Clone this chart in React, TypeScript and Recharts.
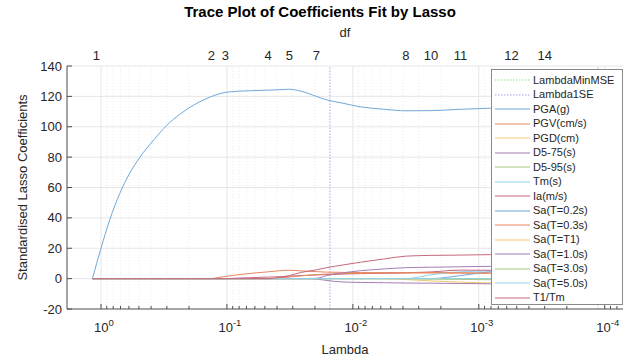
import React from "react";
import { LineChart, Line, XAxis, YAxis, ReferenceLine, Legend } from "recharts";

// lambda path (largest to smallest) and the coefficient traces along it
const lambdas = [
  1.17, 1.0, 0.85, 0.71, 0.6, 0.49, 0.38, 0.3, 0.234, 0.182, 0.148, 0.133, 0.12, 0.103, 0.085, 0.066,
  0.047, 0.038, 0.032, 0.026, 0.0195, 0.0162, 0.012, 0.0087, 0.0056, 0.0038, 0.0024, 0.0014, 0.00081, 0.00055, 0.0003, 0.000117,
];

const pga = [0, 20, 39, 56, 68.5, 80, 91.5, 101, 108.5, 114.5, 118.3, 119.9, 121.2, 122.6, 123.3, 123.7, 124.1, 124.4, 124.7, 123.5, 120, 117.7, 115.5, 113.1, 111.5, 110.5, 110.6, 111.5, 112.2, 112.5, 112.7, 112.9];
const pgv = [0, 0, 0, 0, 0, 0, 0, 0, 0, 0, 0, 0, 0.6, 1.4, 2.4, 3.4, 4.5, 5.2, 5.5, 5.1, 4.6, 4.3, 4.1, 4.0, 3.9, 3.8, 3.7, 3.6, 3.5, 3.5, 3.4, 3.4];
const pgd = [0, 0, 0, 0, 0, 0, 0, 0, 0, 0, 0, 0, 0, 0, 0, 0, 0, 0, 0, 0, 0, 0, 0, 0, 0, -0.6, -1.5, -2.3, -2.9, -3.1, -3.2, -3.3];
const d575 = [0, 0, 0, 0, 0, 0, 0, 0, 0, 0, 0, 0, 0, 0, 0, 0, 0, 0, 0, 0, -0.3, -1.2, -2.2, -2.5, -2.7, -2.9, -3.0, -3.2, -3.4, -3.5, -3.6, -3.7];
const d595 = [0, 0, 0, 0, 0, 0, 0, 0, 0, 0, 0, 0, 0, 0, 0, 0, 0, 0, 0, 0, 0, 0, 0, 0, 0, 0, -0.3, -0.5, -0.7, -0.8, -0.9, -1.0];
const tm = [0, 0, 0, 0, 0, 0, 0, 0, 0, 0, 0, 0, 0, 0, 0, 0, 0, 0, 0, 0, 0, 0, 0, 0, 0, 0, 2.5, 4.5, 5.0, 5.3, 5.5, 5.8];
const ia = [0, 0, 0, 0, 0, 0, 0, 0, 0, 0, 0, 0, 0, 0, 0.3, 0.6, 1.0, 1.3, 1.6, 2.0, 2.4, 2.7, 3.0, 3.3, 3.5, 3.8, 4.4, 5.6, 5.5, 5.4, 5.3, 5.2];
const sa02 = [0, 0, 0, 0, 0, 0, 0, 0, 0, 0, 0, 0, 0, 0, 0, 0, 0, 0, 0, 0, 0, 0, 0, 0, 0, 0, 0, 2.0, 4.5, 5.5, 6.2, 6.6];
const sa03 = [0, 0, 0, 0, 0, 0, 0, 0, 0, 0, 0, 0, 0, 0, 0, 0, 0, 0.5, 1.0, 1.8, 2.6, 3.0, 3.3, 3.5, 3.7, 3.9, 4.0, 3.9, 3.7, 3.6, 3.5, 3.5];
const saT1 = [0, 0, 0, 0, 0, 0, 0, 0, 0, 0, 0, 0, 0, 0, 0, 0, 0, 0, 0, 0, 0, 0, 0, 0, 0, 0, 0, 0, 0, -0.5, -1.2, -1.6];
const sa10 = [0, 0, 0, 0, 0, 0, 0, 0, 0, 0, 0, 0, 0, 0, 0, 0, 0, 0, 0, 0, 0.2, 2.0, 3.8, 5.2, 6.4, 7.2, 7.5, 7.8, 8.1, 8.3, 8.4, 8.5];
const sa30 = [0, 0, 0, 0, 0, 0, 0, 0, 0, 0, 0, 0, 0, 0, 0, 0, 0, 0, 0, 0, 0, 0, 0, 0, 0, 0, 0, 0, 0, 0, -0.4, -0.8];
const sa50 = [0, 0, 0, 0, 0, 0, 0, 0, 0, 0, 0, 0, 0, 0, 0, 0, 0, 0, 0, 0, 0, 0, 0, 0, 0, 0, 0, 0, 0, 0, 0.8, 1.6];
const t1tm = [0, 0, 0, 0, 0, 0, 0, 0, 0, 0, 0, 0, 0, 0, 0, 0, 0, 0.8, 2.0, 4.0, 5.8, 7.2, 9.0, 10.8, 13.0, 14.8, 15.3, 15.5, 15.8, 15.9, 16.0, 16.1];

const seriesNames = [
  "PGA(g)", "PGV(cm/s)", "PGD(cm)", "D5-75(s)", "D5-95(s)", "Tm(s)", "Ia(m/s)",
  "Sa(T=0.2s)", "Sa(T=0.3s)", "Sa(T=T1)", "Sa(T=1.0s)", "Sa(T=3.0s)", "Sa(T=5.0s)", "T1/Tm",
];
const seriesValues = [pga, pgv, pgd, d575, d595, tm, ia, sa02, sa03, saT1, sa10, sa30, sa50, t1tm];

// matlab default line order, a bit washed out
const palette = ["#6fa8da", "#e8875f", "#f1c96a", "#a67cb4", "#a4c97c", "#8dd3f1", "#c9677b"];

const yTicks = [-20, 0, 20, 40, 60, 80, 100, 120, 140];
const decadeTicks = [1, 0.1, 0.01, 0.001, 0.0001];
const minorTicks = [
  0.9, 0.8, 0.7, 0.6, 0.5, 0.4, 0.3, 0.2,
  0.09, 0.08, 0.07, 0.06, 0.05, 0.04, 0.03, 0.02,
  0.009, 0.008, 0.007, 0.006, 0.005, 0.004, 0.003, 0.002,
  0.0009, 0.0008, 0.0007, 0.0006, 0.0005, 0.0004, 0.0003, 0.0002,
  0.00009, 0.00008,
];
const dfLambdas = [1.09, 0.133, 0.103, 0.047, 0.032, 0.0195, 0.0038, 0.0024, 0.0014, 0.00055, 0.0003];
const dfLabels = ["1", "2", "3", "4", "5", "7", "8", "10", "11", "12", "14"];

const lambdaMinMSE = 0.000113;
const lambda1SE = 0.0152;

const rows = lambdas.map((lambda, i) => {
  const row: Record<string, number> = { lambda };
  seriesValues.forEach((vals, k) => {
    row["s" + k] = vals[i];
  });
  return row;
});

const FONT = "'Liberation Sans', Arial, Helvetica, sans-serif";
const TEXT = "#262626";
const AXIS = "#4d4d4d";

function LambdaTick(props: any) {
  const { x, y, payload } = props;
  const v = payload.value as number;
  const p = Math.log10(v);
  const exp = Math.round(p);
  const major = Math.abs(p - exp) < 1e-6;
  return (
    <g>
      <line x1={x} x2={x} y1={y} y2={y - (major ? 5 : 3)} stroke={AXIS} />
      {major && (
        <text x={x + 3} y={y + 23} textAnchor="middle" fontSize={13} fill={TEXT} fontFamily={FONT}>
          10
          <tspan dy={-6} fontSize={9.5}>
            {String(exp)}
          </tspan>
        </text>
      )}
    </g>
  );
}

function DfTick(props: any) {
  const { x, y, index } = props;
  return (
    <text x={x} y={y - 6} textAnchor="middle" fontSize={13} fill={TEXT} fontFamily={FONT}>
      {dfLabels[index]}
    </text>
  );
}

function ValueTick(props: any) {
  const { x, y, payload } = props;
  return (
    <g>
      <line x1={x} x2={x + 5} y1={y} y2={y} stroke={AXIS} />
      <text x={x - 5} y={y} dy="0.35em" textAnchor="end" fontSize={13} fill={TEXT} fontFamily={FONT}>
        {payload.value}
      </text>
    </g>
  );
}

const legendItems = [
  { name: "LambdaMinMSE", color: "#8fe08f", dash: "1.5 1.5" },
  { name: "Lambda1SE", color: "#a3a3f2", dash: "1.5 1.5" },
  ...seriesNames.map((name, i) => ({ name, color: palette[i % palette.length], dash: undefined as string | undefined })),
];

function LegendBox() {
  return (
    <div
      style={{
        width: 132,
        height: 236,
        boxSizing: "border-box",
        border: "1px solid #8a8a8a",
        background: "#fff",
        paddingTop: 2.75,
        fontFamily: FONT,
      }}
    >
      {legendItems.map((item) => (
        <div key={item.name} style={{ height: 14.5, display: "flex", alignItems: "center" }}>
          <svg width={38} height={6} style={{ display: "block" }}>
            <line x1={3} x2={38} y1={3} y2={3} stroke={item.color} strokeWidth={1.2} strokeDasharray={item.dash} />
          </svg>
          <span style={{ marginLeft: 3, fontSize: 11, color: TEXT, lineHeight: "14.5px", whiteSpace: "nowrap" }}>
            {item.name}
          </span>
        </div>
      ))}
    </div>
  );
}

export default function App() {
  const xDomain = [0.0000716, 1.862];
  return (
    <div style={{ position: "absolute", left: 0, top: 0, width: 633, height: 361, background: "#fff", fontFamily: FONT }}>
      <LineChart width={633} height={361} data={rows} margin={{ top: 0, right: 10, bottom: 0, left: 0 }}>
        <XAxis
          xAxisId="lam"
          dataKey="lambda"
          type="number"
          scale="log"
          domain={xDomain}
          allowDataOverflow
          reversed
          ticks={[...decadeTicks, ...minorTicks]}
          interval={0}
          height={52}
          tickSize={0}
          tickLine={false}
          tickMargin={0}
          tick={<LambdaTick />}
          axisLine={{ stroke: AXIS }}
          label={(p: any) => {
            const vb = p.viewBox;
            return (
              <text x={vb.x + vb.width / 2} y={vb.y + 45} textAnchor="middle" fontSize={13} fill={TEXT} fontFamily={FONT}>
                Lambda
              </text>
            );
          }}
        />
        <XAxis
          xAxisId="df"
          orientation="top"
          dataKey="lambda"
          type="number"
          scale="log"
          domain={xDomain}
          allowDataOverflow
          reversed
          ticks={dfLambdas}
          interval={0}
          height={66}
          tickSize={0}
          tickLine={false}
          tickMargin={0}
          tick={<DfTick />}
          axisLine={false}
          label={(p: any) => {
            const vb = p.viewBox;
            return (
              <text x={vb.x + vb.width / 2} y={vb.y + 37} textAnchor="middle" fontSize={13} fill={TEXT} fontFamily={FONT}>
                df
              </text>
            );
          }}
        />
        <YAxis
          type="number"
          domain={[-20, 140]}
          ticks={yTicks}
          interval={0}
          width={67}
          tickSize={0}
          tickLine={false}
          tickMargin={0}
          tick={<ValueTick />}
          axisLine={{ stroke: AXIS }}
          label={(p: any) => {
            const vb = p.viewBox;
            const cy = vb.y + vb.height / 2;
            return (
              <text
                x={22}
                y={cy}
                transform={`rotate(-90 22 ${cy})`}
                textAnchor="middle"
                dominantBaseline="central"
                fontSize={13}
                fill={TEXT}
                fontFamily={FONT}
              >
                Standardised Lasso Coefficients
              </text>
            );
          }}
        />

        {yTicks.slice(1).map((v) => (
          <ReferenceLine key={"h" + v} xAxisId="lam" y={v} stroke="#e6e6e6" />
        ))}
        {decadeTicks.map((v) => (
          <ReferenceLine key={"d" + v} xAxisId="lam" x={v} stroke="#e6e6e6" />
        ))}
        {minorTicks.map((v) => (
          <ReferenceLine key={"m" + v} xAxisId="lam" x={v} stroke="#ececec" strokeDasharray="1 2" />
        ))}

        <ReferenceLine xAxisId="lam" x={lambda1SE} stroke="#a3a3f2" strokeDasharray="1.5 1.5" />
        <ReferenceLine xAxisId="lam" x={lambdaMinMSE} stroke="#8fe08f" strokeDasharray="1.5 1.5" />

        {seriesNames.map((name, k) => (
          <Line
            key={name}
            xAxisId="lam"
            dataKey={"s" + k}
            name={name}
            type="monotone"
            stroke={palette[k % palette.length]}
            strokeWidth={1}
            dot={false}
            activeDot={false}
            isAnimationActive={false}
          />
        ))}

        <Legend
          layout="vertical"
          align="center"
          verticalAlign="middle"
          content={() => <LegendBox />}
          wrapperStyle={{ left: 491, top: 69, width: 132, height: 236 }}
        />
      </LineChart>
      <div
        style={{
          position: "absolute",
          left: 0,
          top: 3,
          width: 640,
          textAlign: "center",
          fontWeight: "bold",
          fontSize: 15,
          color: "#000",
          pointerEvents: "none",
        }}
      >
        Trace Plot of Coefficients Fit by Lasso
      </div>
    </div>
  );
}
